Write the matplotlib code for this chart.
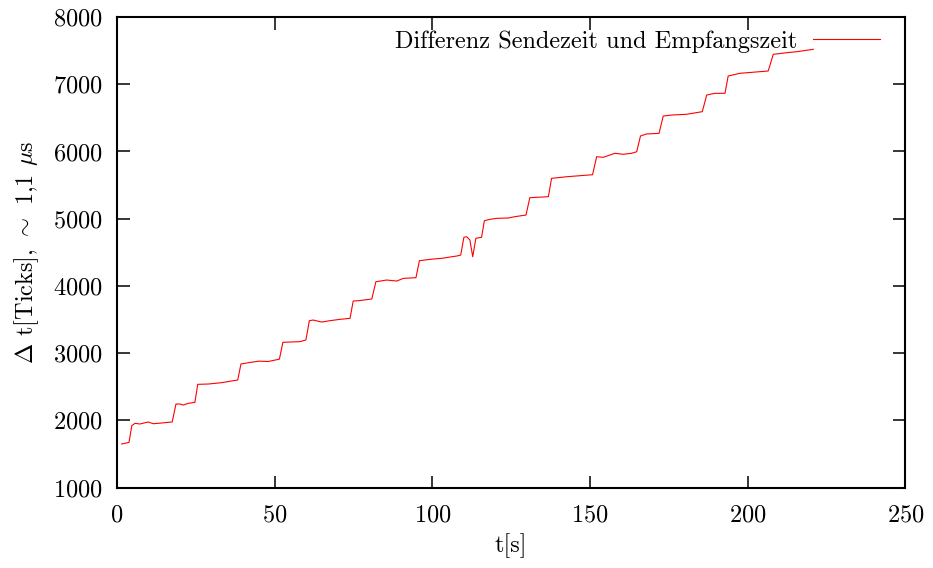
import matplotlib
matplotlib.use("Agg")
import matplotlib.pyplot as plt

plt.rcParams["font.family"] = "cmr10"
plt.rcParams["mathtext.fontset"] = "cm"
plt.rcParams["axes.formatter.use_mathtext"] = True

# Zeitpunkte [s] und Differenz [Ticks]
t_sec = [1.5, 3.8, 4.7, 5.7, 7.3, 8.9, 9.9, 11.5, 14.2, 16.3, 17.5,
         18.7, 20.0, 21.0, 22.6, 24.7,
         25.6, 29.0, 33.2, 38.3,
         39.3, 42.0, 45.0, 48.0, 51.5,
         52.6, 55.0, 58.0, 59.9,
         61.0, 62.2, 64.9, 67.5, 70.7, 73.9,
         74.9, 76.5, 80.8,
         82.1, 85.5, 88.7, 90.8, 94.8,
         95.9, 100.3, 103.0, 105.0, 107.7, 109.0,
         110.0, 110.9, 111.9, 112.8, 113.8, 115.6,
         116.5, 118.3, 120.4, 124.1, 126.2, 129.7,
         130.9, 136.8,
         137.8, 142.6, 150.8,
         152.1, 154.2, 157.9, 160.5, 163.2, 164.8,
         166.0, 167.9, 171.9,
         173.2, 175.9, 180.6, 185.6,
         187.0, 189.6, 192.8,
         193.8, 197.5, 206.5,
         208.1, 212.3, 215.5, 220.8]
delta_ticks = [1647, 1672, 1920, 1955, 1945, 1964, 1975, 1949, 1960, 1970, 1975,
               2242, 2242, 2227, 2252, 2267,
               2535, 2540, 2560, 2600,
               2838, 2860, 2880, 2875, 2910,
               3160, 3165, 3170, 3195,
               3482, 3492, 3462, 3482, 3502, 3517,
               3775, 3779, 3805,
               4062, 4087, 4072, 4112, 4122,
               4375, 4400, 4410, 4425, 4444, 4459,
               4723, 4732, 4683, 4434, 4708, 4723,
               4970, 4990, 5005, 5010, 5030, 5054,
               5312, 5327,
               5600, 5624, 5654,
               5922, 5913, 5973, 5958, 5973, 5996,
               6230, 6260, 6270,
               6527, 6542, 6553, 6592,
               6840, 6865, 6865,
               7122, 7163, 7197,
               7445, 7469, 7484, 7520]

FS = 17.5

fig = plt.figure(figsize=(9.33, 5.68), dpi=100)
ax = fig.add_axes([0.1254, 0.1417, 0.845, 0.8283])

ax.plot(t_sec, delta_ticks, color="#ff0000", linewidth=0.8,
        label="Differenz Sendezeit und Empfangszeit")

ax.set_xlim(0, 250)
ax.set_ylim(1000, 8000)
ax.set_xticks(range(0, 251, 50))
ax.set_yticks(range(1000, 8001, 1000))

for side in ax.spines.values():
    side.set_linewidth(1.5)

ax.tick_params(direction="in", length=9, width=1.1, top=True, right=True,
               labelsize=FS)
ax.tick_params(axis="x", pad=12)
ax.tick_params(axis="y", pad=10)

ax.set_xlabel("t[s]", fontsize=FS, labelpad=5)
ax.set_ylabel(r"$\Delta$ t[Ticks], $\sim$ 1,1 $\mu$s", fontsize=FS, labelpad=9)

ax.legend(loc="upper right", bbox_to_anchor=(0.9677, 0.972), frameon=False,
          markerfirst=False, fontsize=FS, handlelength=2.75, handletextpad=0.65,
          borderpad=0, borderaxespad=0)

fig.savefig("out.png", dpi=100)
